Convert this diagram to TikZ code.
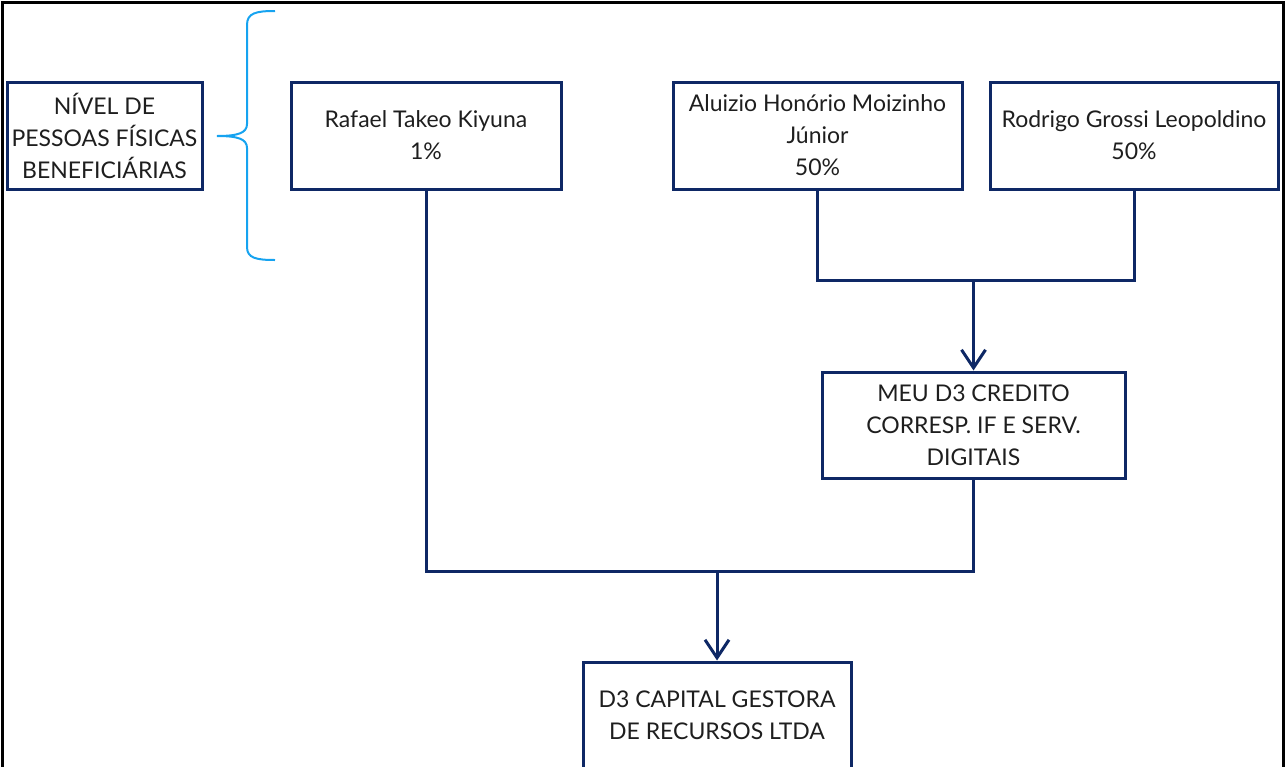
\documentclass[tikz,border=0pt]{standalone}
\usepackage{fontspec}
\setmainfont{Lato}
\usetikzlibrary{arrows.meta}
\definecolor{boxnavy}{RGB}{14,40,101}
\definecolor{braceblue}{RGB}{22,163,240}
\definecolor{textgray}{RGB}{30,30,30}
\tikzset{%
  every holder/.style={
    rectangle,
    draw=boxnavy,
    line width=3pt,
    align=center,
    text=textgray,
    inner sep=0pt,
    font=\fontsize{23}{32}\selectfont
  },
  holder link/.style={
    draw=boxnavy,
    line width=3pt
  },
}

\begin{document}
\begin{tikzpicture}[x=1pt, y=-1pt, > = {Straight Barb[length=18pt,width=24pt]}]
\useasboundingbox (0,0) rectangle (1285,766);
\draw[line width=3pt] (2,790) -- (2,2) -- (1283,2) -- (1283,790);

    \node[every holder, minimum width=195pt, minimum height=107pt] (level) at (104.5,135.5) {NÍVEL DE\\PESSOAS FÍSICAS\\BENEFICIÁRIAS};
    \node[every holder, minimum width=270pt, minimum height=107pt] (rafael) at (426,135.5) {Rafael Takeo Kiyuna\\1\%};
    \node[every holder, minimum width=289pt, minimum height=107pt] (aluizio) at (817.5,135.5) {Aluizio Honório Moizinho\\Júnior\\50\%};
    \node[every holder, minimum width=288pt, minimum height=107pt] (rodrigo) at (1134,135.5) {Rodrigo Grossi Leopoldino\\50\%};
    \node[every holder, minimum width=303pt, minimum height=106pt] (meu) at (973.5,425) {MEU D3 CREDITO\\CORRESP. IF E SERV.\\DIGITAIS};
    \node[every holder, minimum width=268pt, minimum height=106pt] (d3) at (717,715) {D3 CAPITAL GESTORA\\DE RECURSOS LTDA};

    % brace of the level
    \draw[braceblue, line width=2pt] (275,11) .. controls (256,11) and (247,13) .. (247,25) -- (247,124)
        .. controls (247,133) and (238,136) .. (217,136)
        .. controls (238,136) and (247,139) .. (247,148) -- (247,247)
        .. controls (247,258) and (256,260) .. (275,260);

    \coordinate (fork) at (973.5,280);
    \coordinate (merge) at (717,571);
    \draw[holder link] (aluizio.south) |- (fork) -| (rodrigo.south);
    \draw[holder link, ->] (fork) -- (meu.north);
    \draw[holder link] (meu.south) |- (merge) -| (rafael.south);
    \draw[holder link, ->] (merge) -- (d3.north);
\end{tikzpicture}
\end{document}
